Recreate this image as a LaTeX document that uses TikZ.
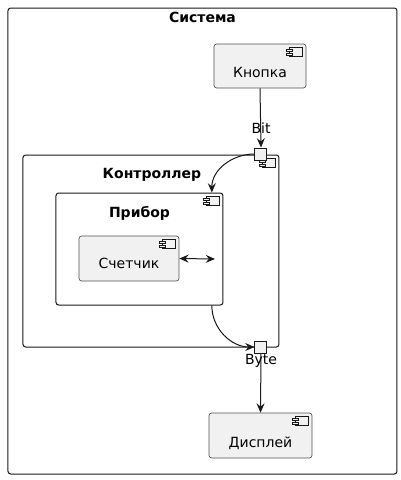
\documentclass[tikz,border=0pt]{standalone}
\usepackage{fontspec}
\setmainfont{DejaVu Sans}
\usetikzlibrary{arrows.meta}

\definecolor{boxfill}{HTML}{F1F1F1}
\definecolor{edge}{HTML}{181818}

% small component sign in the top right corner of a box
\newcommand{\compicon}[1]{%
  \draw [edge, line width=0.4pt, fill=boxfill, shift={(#1.north east)}] (-17,4) rectangle (-4,13);
  \draw [edge, line width=0.4pt, fill=boxfill, shift={(#1.north east)}] (-20,6) rectangle (-14,8);
  \draw [edge, line width=0.4pt, fill=boxfill, shift={(#1.north east)}] (-20,9.5) rectangle (-14,11.5);
}

\begin{document}
\begin{tikzpicture}[x=0.75pt, y=-0.75pt,
    font=\fontsize{10.5}{12}\selectfont,
    frame/.style={draw=edge, line width=0.75pt, rounded corners=2pt, inner sep=0},
    comp/.style={draw=edge!75, fill=boxfill, line width=0.5pt, rounded corners=2pt, inner sep=0},
    port/.style={draw=edge, fill=boxfill, line width=0.75pt, minimum size=9pt, inner sep=0},
    title/.style={font=\fontsize{10.5}{12}\selectfont\bfseries},
    link/.style={->, >={Stealth[length=7pt, width=6pt, inset=2.5pt]}, edge, line width=0.75pt}]
  \useasboundingbox (0,0) rectangle (401,480);

  \node [frame, minimum width=291.75pt, minimum height=349.5pt] (sistema) at (202.5,241) {};
  \node [title] (sistemaT) at (202.5,17) {Система};

  \node [comp, minimum width=69pt, minimum height=33pt,
         label={[yshift=-5pt]center:Кнопка}] (knopka) at (260,66) {};
  \compicon{knopka}

  \node [frame, minimum width=192pt, minimum height=144pt] (kontroller) at (151,251) {};
  \compicon{kontroller}
  \node [title] (kontrollerT) at (152,175) {Контроллер};

  \node [frame, minimum width=125.25pt, minimum height=84pt] (pribor) at (139.5,249) {};
  \compicon{pribor}
  \node [title] (priborT) at (139.5,213) {Прибор};

  \node [comp, minimum width=75pt, minimum height=33.75pt,
         label={[yshift=-3.5pt]center:Счетчик}] (schetchik) at (129,258.5) {};
  \compicon{schetchik}
  \coordinate (schetchikEnd) at (215,259);

  \node [comp, minimum width=77.25pt, minimum height=33.75pt,
         label={[yshift=-5.5pt]center:Дисплей}] (displey) at (260.5,435.5) {};
  \compicon{displey}

  % ports
  \node [port] (bit) at (261,154) {};
  \node [port] (byte) at (261,347) {};

  \draw [link] (knopka.south) -- (bit.north);
  \node (bitT) at (261,128) {Bit};
  \draw [link] (bit.west) to [out=180, in=90] (pribor.38);
  \draw [link, <->] (schetchik.east) -- (schetchikEnd);
  \draw [link] (pribor.-38) to [out=-90, in=180] (byte.west);
  \draw [link] (byte.south) -- (displey.north);
  \node (byteT) at (261,361) {Byte};
\end{tikzpicture}
\end{document}
